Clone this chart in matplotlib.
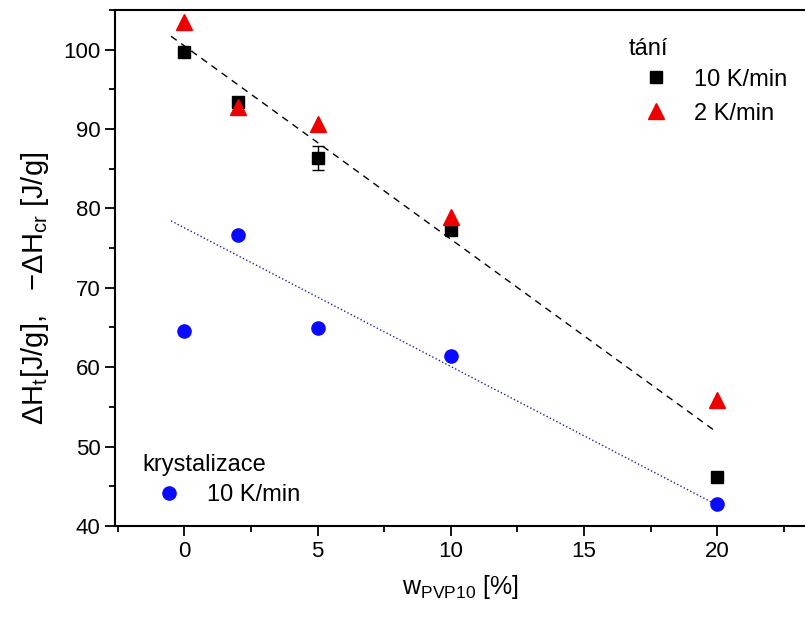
import numpy as np
import matplotlib
matplotlib.use("Agg")
import matplotlib.pyplot as plt
from matplotlib.ticker import MultipleLocator

plt.rcParams['font.family'] = ['Liberation Sans', 'DejaVu Sans']
plt.rcParams['mathtext.fontset'] = 'custom'
plt.rcParams['mathtext.rm'] = 'Liberation Sans'

# PVP10 content [%]
w_pvp = np.array([0, 2, 5, 10, 20])

# melting enthalpy, 10 K/min and 2 K/min
dh_melt_10 = np.array([99.7, 93.4, 86.3, 77.3, 46.2])
dh_melt_10_err = np.array([0.0, 0.0, 1.5, 0.0, 0.0])
dh_melt_2 = np.array([103.5, 92.8, 90.6, 78.9, 55.8])

# crystallization enthalpy (negative sign), 10 K/min
dh_cryst_10 = np.array([64.6, 76.6, 64.9, 61.4, 42.7])

fig = plt.figure(figsize=(8.05, 6.18), dpi=100)
ax = fig.add_axes([0.143, 0.149, 0.857, 0.835])

# linear trends
x_fit = np.array([-0.5, 20])
k1 = np.polyfit(np.concatenate([w_pvp, w_pvp]),
                np.concatenate([dh_melt_10, dh_melt_2]), 1)
ax.plot(x_fit, np.polyval(k1, x_fit), '--', color='black', lw=1.0,
        dashes=(5, 4), zorder=1)
k2 = np.polyfit(w_pvp[1:], dh_cryst_10[1:], 1)
ax.plot(x_fit, np.polyval(k2, x_fit), ':', color='#1f1fa8', lw=1.0, zorder=1)

# only points with a nonzero error get a bar
has_err = dh_melt_10_err > 0
ax.errorbar(w_pvp[has_err], dh_melt_10[has_err], yerr=dh_melt_10_err[has_err],
            fmt='none', ecolor='black', capsize=4, elinewidth=1, capthick=1,
            zorder=2)
sq, = ax.plot(w_pvp, dh_melt_10, 's', color='black', ms=8, ls='none',
              zorder=3)
tri, = ax.plot(w_pvp, dh_melt_2, '^', color='#ee0000', ms=11, ls='none',
               zorder=4)
circ, = ax.plot(w_pvp, dh_cryst_10, 'o', color='#0a0aff', ms=9.5, ls='none',
                zorder=4)

ax.set_xlim(-2.6, 23.3)
ax.set_ylim(40, 105)
ax.xaxis.set_major_locator(MultipleLocator(5))
ax.xaxis.set_minor_locator(MultipleLocator(2.5))
ax.yaxis.set_major_locator(MultipleLocator(10))
ax.yaxis.set_minor_locator(MultipleLocator(5))
ax.tick_params(which='major', direction='out', length=7, width=1.3,
               labelsize=16, top=False, right=False)
ax.tick_params(which='minor', direction='out', length=4, width=1.3,
               top=False, right=False)
for s in ['left', 'bottom', 'top']:
    ax.spines[s].set_linewidth(1.5)
ax.spines['right'].set_visible(False)

ax.set_xlabel(r'w$_{\mathregular{PVP10}}$ [%]', fontsize=18, labelpad=8)
ax.set_ylabel(r'$\mathregular{\Delta H_t}$[J/g],   $\mathregular{-\Delta H_{cr}}$ [J/g]',
              fontsize=21)
ax.yaxis.set_label_coords(-0.093, 0.46)

# legends: group titles as plain text, entries below them
leg_kw = dict(frameon=False, fontsize=17, handlelength=1.5,
              handletextpad=0.85, borderpad=0, borderaxespad=0,
              labelspacing=0.5, markerscale=1.0)
ax.text(0.745, 0.925, 'tání', transform=ax.transAxes, fontsize=17,
        va='center', ha='left')
leg1 = ax.legend([sq, tri], ['10 K/min', '2 K/min'], loc='upper left',
                 bbox_to_anchor=(0.759, 0.886), **leg_kw)
ax.add_artist(leg1)
ax.text(0.039, 0.118, 'krystalizace', transform=ax.transAxes, fontsize=17,
        va='center', ha='left')
ax.legend([circ], ['10 K/min'], loc='upper left',
          bbox_to_anchor=(0.053, 0.081), **leg_kw)

fig.savefig('out.png', dpi=100)
